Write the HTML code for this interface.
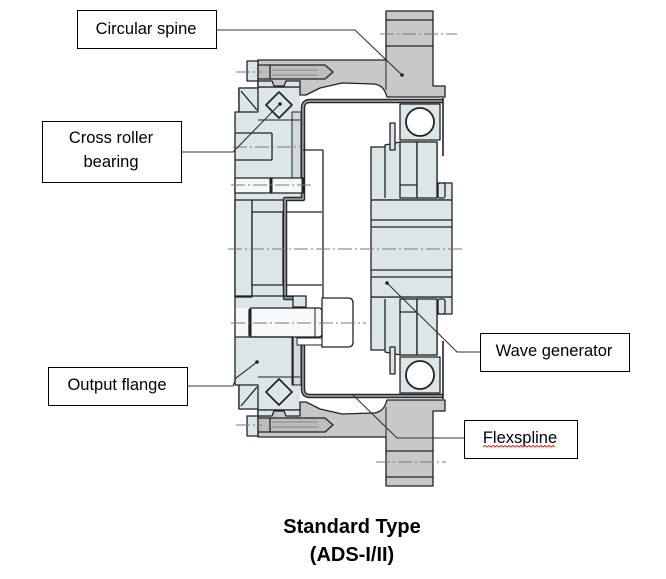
<!DOCTYPE html>
<html><head><meta charset="utf-8"><style>
html,body{margin:0;padding:0;background:#fff;}
svg{display:block;}
.t{font-family:"Liberation Sans",Arial,sans-serif;font-size:16.5px;fill:#000;}
.b{font-family:"Liberation Sans",Arial,sans-serif;font-size:20px;font-weight:bold;fill:#000;}
</style></head><body>
<svg width="666" height="579" viewBox="0 0 666 579" xmlns="http://www.w3.org/2000/svg">
<defs>
<g id="half" stroke="#222" stroke-width="1.3" stroke-linejoin="round">
  <!-- column base -->
  <path d="M238,87 L300,87 L300,199 L287,199 L287,249 L235,249 L235,112 L238,112 Z" fill="#dae6e8" stroke="none"/>
  <path d="M235,249 L235,112 L239,112 L239,88" fill="none"/>
  <rect x="292" y="112" width="9" height="66" fill="#cfdadc" stroke-width="1"/>
  <!-- spine -->
  <path d="M258,60 L386,60 L386,11 L433,11 L433,86 L445,86 L445,97 L387,97 C385,90 382,85 374,84 L342,83 L320,88 L306,95 L300,95 L300,87 L258,87 Z" fill="#c8c8c8"/>
  <line x1="386" y1="20" x2="433" y2="20"/>
  <line x1="386" y1="46" x2="433" y2="46"/>
  <line x1="386" y1="60" x2="386" y2="90" stroke-width="1"/>
  <!-- bolt -->
  <rect x="247" y="61" width="11" height="20" fill="#dae6e8"/>
  <path d="M258,65 L325,65 L333,72 L325,79 L258,79 Z" fill="#bdbdbd"/>
  <line x1="270" y1="65" x2="270" y2="79"/>
  <line x1="272" y1="70" x2="318" y2="70" stroke="#888" stroke-width="1"/>
  <line x1="272" y1="75" x2="318" y2="75" stroke="#888" stroke-width="1"/>
  <!-- bearing -->
  <path d="M258,81 L272,81 L274,86 L284,86 L286,81 L300,81 L300,87 L258,87 Z" fill="#dae6e8"/>
  <rect x="239" y="88" width="19" height="24" fill="#dae6e8"/>
  <line x1="241" y1="91" x2="257" y2="110"/>
  <line x1="258" y1="120" x2="300" y2="120" stroke-width="1"/>
  <path d="M279,92 L292,105 L279,118 L266,105 Z" fill="#dae6e8" stroke-width="1.7"/>
  <!-- flexspline cup -->
  <path d="M443,101 L310,101 Q303,101 303,108 L303,199 L285,199 L285,249" fill="none" stroke="#2a2a2a" stroke-width="4.5"/>
  <path d="M443,101 L310,101 Q303,101 303,108 L303,199 L285,199 L285,249" fill="none" stroke="#a8a8a8" stroke-width="1.5"/>
  <line x1="443" y1="98" x2="443" y2="156" stroke-width="1.6"/>
  <!-- wave generator upper -->
  <path d="M371,200 L371,147 L385,147 L385,145 L400,142 L437,142 L437,183 L452,183 L452,200 Z" fill="#dae6e8"/>
  <line x1="385" y1="147" x2="385" y2="198"/>
  <rect x="400" y="142" width="17" height="56" fill="#dae6e8"/>
  <line x1="400" y1="185" x2="417" y2="185"/>
  <rect x="417" y="142" width="20" height="56" fill="#dae6e8"/>
  <rect x="438" y="183" width="7" height="15" rx="2" fill="#dae6e8"/>
  <rect x="390" y="123" width="5" height="27" fill="#dae6e8"/>
  <rect x="400" y="104" width="40" height="36" fill="#dae6e8"/>
  <circle cx="420" cy="122" r="14" fill="#fff" stroke-width="1.8"/>
</g>
</defs>
<rect width="666" height="579" fill="#fff"/>

<use href="#half"/>
<use href="#half" transform="matrix(1,0,0,-1,0,497)"/>

<g stroke="#222" stroke-width="1.3" stroke-linejoin="round" fill="none">
  <!-- hub of wave generator -->
  <rect x="371" y="200" width="81" height="97" rx="2" fill="#dae6e8"/>
  <line x1="371" y1="220" x2="452" y2="220"/>
  <line x1="371" y1="227" x2="452" y2="227"/>
  <line x1="371" y1="270" x2="452" y2="270"/>
  <line x1="371" y1="277" x2="452" y2="277"/>

  <!-- upper column details -->
  <line x1="235" y1="133" x2="272" y2="133"/>
  <line x1="235" y1="160" x2="272" y2="160"/>
  <line x1="272" y1="133" x2="272" y2="160"/>
  <rect x="235" y="178" width="68" height="15" fill="#f4f8f8"/>
  <line x1="271" y1="178" x2="271" y2="193" stroke-width="3"/>
  <line x1="303" y1="178" x2="303" y2="193" stroke-width="3"/>
  <rect x="235" y="200" width="17" height="97" fill="#dae6e8"/>
  <line x1="252" y1="200" x2="283" y2="200"/>
  <rect x="252" y="212" width="31" height="73" fill="#dae6e8"/>
  <line x1="287" y1="212" x2="322" y2="212"/>
  <line x1="287" y1="285" x2="322" y2="285"/>
  <line x1="303" y1="150" x2="323" y2="150"/>
  <line x1="323" y1="150" x2="323" y2="298"/>
  <line x1="235" y1="296" x2="293" y2="296"/>
  <rect x="293" y="296" width="13" height="11" fill="#dae6e8"/>

  <!-- lower column details -->
  <rect x="236" y="308" width="14" height="29" fill="#f4f8f8" stroke="none"/>
  <rect x="249" y="308" width="73" height="29" rx="3" fill="#f7f9f9"/>
  <line x1="250" y1="309" x2="250" y2="336" stroke-width="3"/>
  <line x1="315" y1="308" x2="315" y2="337" stroke-width="1"/>
  <path d="M322,298 L348,298 Q353,298 353,303 L353,342 Q353,347 348,347 L322,347 Z" fill="#fff"/>
  <rect x="297" y="338" width="25" height="7" fill="#fff" stroke-width="1"/>
  <line x1="235" y1="337" x2="293" y2="337"/>
  <line x1="293" y1="337" x2="293" y2="385"/>
</g>

<!-- centerlines -->
<g stroke="#7a7a7a" stroke-width="1" stroke-dasharray="14 3 2 3" fill="none">
  <line x1="228" y1="249" x2="464" y2="249"/>
  <line x1="380" y1="34" x2="457" y2="34"/>
  <line x1="236" y1="72" x2="262" y2="72"/>
  <line x1="233" y1="147" x2="300" y2="147"/>
  <line x1="231" y1="185" x2="312" y2="185"/>
  <line x1="231" y1="323" x2="366" y2="323"/>
  <line x1="376" y1="462" x2="446" y2="462"/>
  <line x1="236" y1="425" x2="262" y2="425"/>
</g>

<!-- leader lines -->
<g stroke="#333" stroke-width="1.1" fill="none">
  <polyline points="216,30 355,30 402,75"/>
  <polyline points="181,152 233,152 280,104"/>
  <polyline points="187,386 233,386 236,378 257,362"/>
  <polyline points="387,283 457,352 480,352"/>
  <polyline points="353,395 397,438 464,438"/>
</g>
<g fill="#222">
  <circle cx="402" cy="75" r="1.8"/>
  <circle cx="280" cy="104" r="1.8"/>
  <circle cx="257" cy="362" r="1.8"/>
  <circle cx="387" cy="283" r="1.8"/>
</g>

<!-- label boxes -->
<g fill="#fff" stroke="#000" stroke-width="1">
  <rect x="77.5" y="10.5" width="139" height="38"/>
  <rect x="42.5" y="121.5" width="139" height="61"/>
  <rect x="48.5" y="367.5" width="139" height="38"/>
  <rect x="480.5" y="333.5" width="149" height="38"/>
  <rect x="464.5" y="420.5" width="113" height="38"/>
</g>
<text class="t" x="146" y="34" text-anchor="middle">Circular spine</text>
<text class="t" x="111" y="143" text-anchor="middle">Cross roller</text>
<text class="t" x="111" y="167" text-anchor="middle">bearing</text>
<text class="t" x="117" y="390" text-anchor="middle">Output flange</text>
<text class="t" x="554" y="356" text-anchor="middle">Wave generator</text>
<text class="t" x="520" y="443" text-anchor="middle">Flexspline</text>
<path d="M483,447 l2,-1.5 l2,1.5 l2,-1.5 l2,1.5 l2,-1.5 l2,1.5 l2,-1.5 l2,1.5 l2,-1.5 l2,1.5 l2,-1.5 l2,1.5 l2,-1.5 l2,1.5 l2,-1.5 l2,1.5 l2,-1.5 l2,1.5 l2,-1.5 l2,1.5 l2,-1.5 l2,1.5 l2,-1.5 l2,1.5 l2,-1.5 l2,1.5 l2,-1.5 l2,1.5 l2,-1.5 l2,1.5 l2,-1.5 l2,1.5 l2,-1.5 l2,1.5 l2,-1.5 l2,1.5" fill="none" stroke="#e02020" stroke-width="1"/>

<text class="b" x="352" y="533" text-anchor="middle">Standard Type</text>
<text class="b" x="352" y="561" text-anchor="middle">(ADS-I/II)</text>
</svg>
</body></html>
